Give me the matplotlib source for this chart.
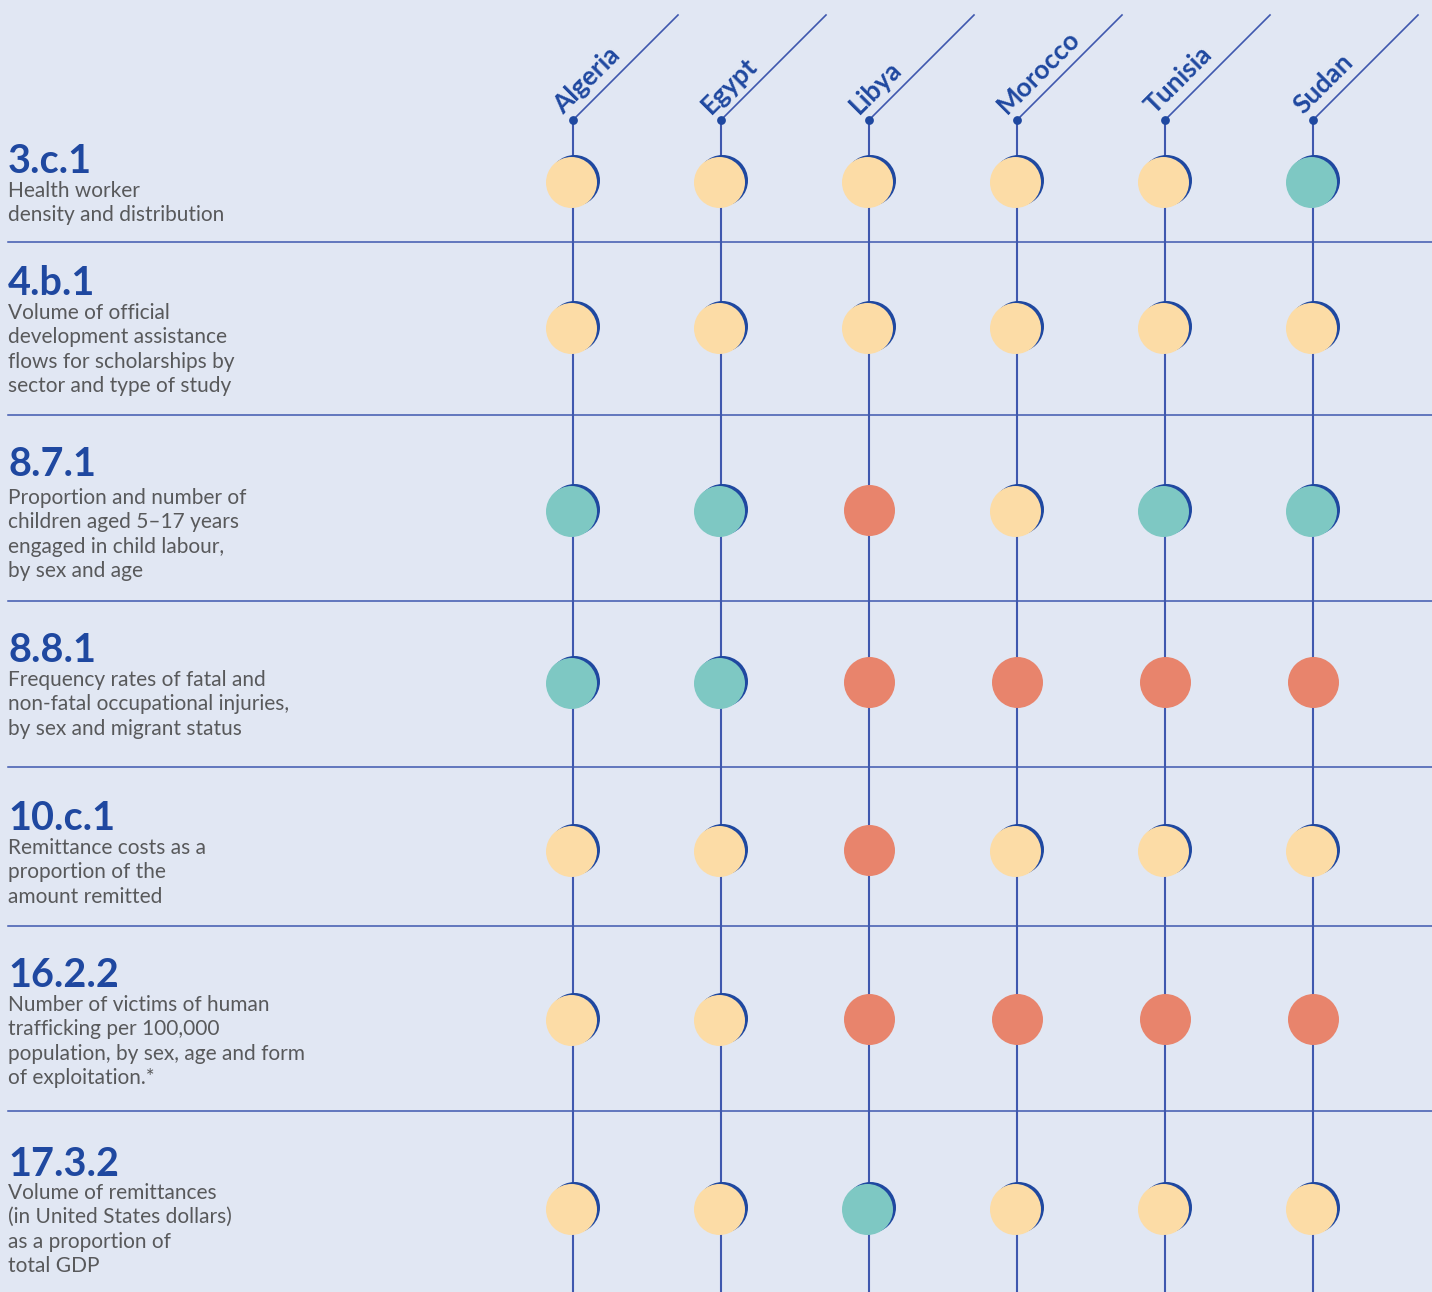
import matplotlib
matplotlib.use("Agg")
import matplotlib.pyplot as plt
from matplotlib.lines import Line2D

plt.rcParams['font.family'] = ['Lato', 'DejaVu Sans']

# ---------------- data ----------------
countries = ["Algeria", "Egypt", "Libya", "Morocco", "Tunisia", "Sudan"]
codes = ["3.c.1", "4.b.1", "8.7.1", "8.8.1", "10.c.1", "16.2.2", "17.3.2"]
descriptions = [
    ["Health worker", "density and distribution"],
    ["Volume of official", "development assistance", "flows for scholarships by", "sector and type of study"],
    ["Proportion and number of", "children aged 5\u201317 years", "engaged in child labour,", "by sex and age"],
    ["Frequency rates of fatal and", "non-fatal occupational injuries,", "by sex and migrant status"],
    ["Remittance costs as a", "proportion of the", "amount remitted"],
    ["Number of victims of human", "trafficking per 100,000", "population, by sex, age and form", "of exploitation.*"],
    ["Volume of remittances", "(in United States dollars)", "as a proportion of", "total GDP"],
]
# status per indicator (rows) and country (columns): Y = yellow, T = teal, R = red
status = [
    ["Y", "Y", "Y", "Y", "Y", "T"],
    ["Y", "Y", "Y", "Y", "Y", "Y"],
    ["T", "T", "R", "Y", "T", "T"],
    ["T", "T", "R", "R", "R", "R"],
    ["Y", "Y", "R", "Y", "Y", "Y"],
    ["Y", "Y", "R", "R", "R", "R"],
    ["Y", "Y", "T", "Y", "Y", "Y"],
]

# ---------------- layout / style ----------------
W, H = 1432, 1292
BG = "#E1E7F3"
BLUE = "#1F48A0"
LINE = "#3F58AE"
GREY = "#58595B"
FILL = {"Y": "#FCDCA6", "T": "#7EC8C3", "R": "#E8846C"}

col_x0, col_dx = 573, 148
dot_y = 120
circle_y = [181, 327, 510, 682, 850, 1019, 1208]
code_base = [173, 295, 476, 662, 830, 987, 1176]
desc_base = [197, 319, 504, 686, 854, 1011, 1199]
line_gap = 24.3
separators = [242, 415, 601, 767, 926, 1111]

fig = plt.figure(figsize=(W / 100, H / 100), dpi=100, facecolor=BG)
ax = fig.add_axes([0, 0, 1, 1])
ax.set_xlim(0, W)
ax.set_ylim(H, 0)
ax.set_facecolor(BG)
ax.axis("off")

xs = [col_x0 + col_dx * i for i in range(len(countries))]

# separators
for y in separators:
    ax.add_line(Line2D([8, W], [y, y], color=LINE, lw=1.1, zorder=1))

# vertical lines, header dots, diagonal lines, labels
for x, name in zip(xs, countries):
    ax.add_line(Line2D([x, x], [dot_y, H], color=LINE, lw=1.5, zorder=1))
    ax.add_line(Line2D([x, x + 105], [dot_y, 15], color=LINE, lw=1.2, zorder=1))
    ax.scatter([x], [dot_y], s=40, color=BLUE, linewidths=0, zorder=3)
    ax.text(x - 10, 115, name, rotation=45, rotation_mode="anchor",
            ha="left", va="baseline", fontsize=19, fontweight="bold",
            color=BLUE, zorder=4)

# row labels
for i, (code, desc) in enumerate(zip(codes, descriptions)):
    ax.text(8, code_base[i], code, ha="left", va="baseline", fontsize=28.5,
            fontweight="bold", color=BLUE)
    for j, line in enumerate(desc):
        ax.text(8, desc_base[i] + j * line_gap, line, ha="left", va="baseline",
                fontsize=15, color=GREY)

# circles
S = (51 * 0.72) ** 2
for i, row in enumerate(status):
    y = circle_y[i]
    for x, st in zip(xs, row):
        if st == "R":
            ax.scatter([x], [y], s=S, color=FILL[st], linewidths=0, zorder=5)
        else:
            ax.scatter([x + 0.5], [y - 1.5], s=S, color=BLUE, linewidths=0, zorder=4)
            ax.scatter([x - 2.5], [y + 0.5], s=S, color=FILL[st], linewidths=0, zorder=5)

fig.savefig("out.png", dpi=100, facecolor=BG)
